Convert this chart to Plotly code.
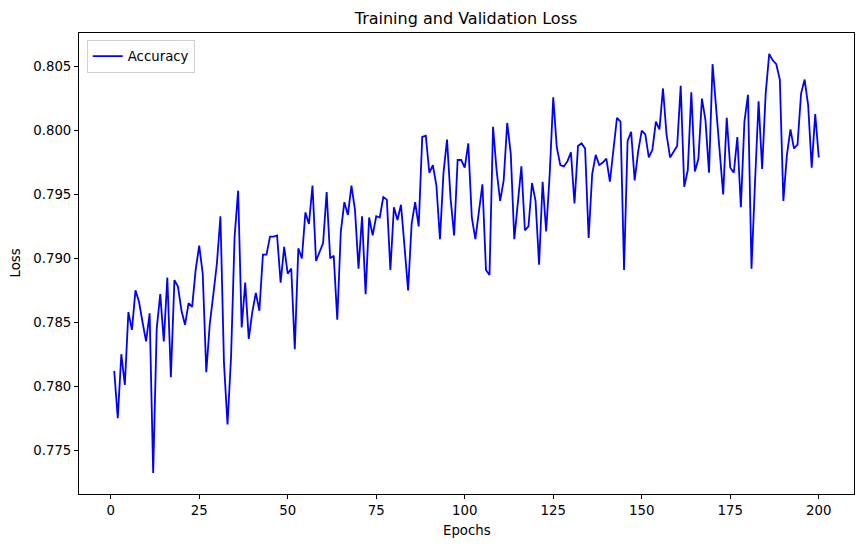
import plotly.graph_objects as go

# valores (epoca 1..200)
epochs = list(range(1, 201))
accuracy = [
    0.7812, 0.7775, 0.7825, 0.7801, 0.7858, 0.7844, 0.7875, 0.7866, 0.7850, 0.7835,
    0.7857, 0.7732, 0.7845, 0.7872, 0.7835, 0.7885, 0.7807, 0.7883, 0.7878, 0.7859,
    0.7848, 0.7865, 0.7862, 0.7891, 0.7910, 0.7888, 0.7811, 0.7849, 0.7872, 0.7896,
    0.7933, 0.7818, 0.7770, 0.7823, 0.7917, 0.7953, 0.7846, 0.7881, 0.7837, 0.7858,
    0.7873, 0.7859, 0.7903, 0.7903, 0.7917, 0.7917, 0.7918, 0.7881, 0.7909, 0.7888,
    0.7892, 0.7829, 0.7908, 0.7900, 0.7936, 0.7927, 0.7957, 0.7898, 0.7905, 0.7912,
    0.7952, 0.7900, 0.7902, 0.7852, 0.7921, 0.7944, 0.7934, 0.7957, 0.7938, 0.7892,
    0.7933, 0.7872, 0.7932, 0.7918, 0.7933, 0.7932, 0.7948, 0.7946, 0.7891, 0.7940,
    0.7930, 0.7942, 0.7909, 0.7875, 0.7927, 0.7944, 0.7925, 0.7995, 0.7996, 0.7967,
    0.7973, 0.7957, 0.7915, 0.7967, 0.7993, 0.7947, 0.7918, 0.7977, 0.7977, 0.7971,
    0.7990, 0.7932, 0.7915, 0.7936, 0.7958, 0.7891, 0.7887, 0.8003, 0.7969, 0.7945,
    0.7961, 0.8006, 0.7982, 0.7915, 0.7943, 0.7972, 0.7922, 0.7925, 0.7959, 0.7945,
    0.7895, 0.7960, 0.7921, 0.7966, 0.8026, 0.7987, 0.7973, 0.7972, 0.7976, 0.7983,
    0.7943, 0.7988, 0.7990, 0.7986, 0.7916, 0.7966, 0.7981, 0.7973, 0.7975, 0.7978,
    0.7960, 0.7986, 0.8010, 0.8007, 0.7891, 0.7992, 0.7999, 0.7961, 0.7984, 0.8000,
    0.7997, 0.7979, 0.7985, 0.8007, 0.8001, 0.8033, 0.7997, 0.7979, 0.7983, 0.7988,
    0.8035, 0.7956, 0.7969, 0.8030, 0.7968, 0.7978, 0.8025, 0.8008, 0.7967, 0.8052,
    0.8018, 0.7982, 0.7950, 0.8010, 0.7971, 0.7967, 0.7995, 0.7940, 0.8007, 0.8028,
    0.7892, 0.7960, 0.8023, 0.7970, 0.8029, 0.8060, 0.8055, 0.8052, 0.8040, 0.7945,
    0.7981, 0.8001, 0.7986, 0.7989, 0.8029, 0.8040, 0.8020, 0.7971, 0.8013, 0.7979,
]
x_ticks = [0, 25, 50, 75, 100, 125, 150, 175, 200]
y_ticks = [0.775, 0.780, 0.785, 0.790, 0.795, 0.800, 0.805]

# margen del 5% como en matplotlib
x_pad = (max(epochs) - min(epochs)) * 0.05
y_pad = (max(accuracy) - min(accuracy)) * 0.05

fig = go.Figure()
fig.add_trace(go.Scatter(
    x=epochs, y=accuracy,
    mode='lines',
    line=dict(color='blue', width=1.8),
    name='Accuracy',
))

axis_style = dict(
    showline=True, mirror=True, linecolor='black', linewidth=1,
    ticks='outside', ticklen=4, tickcolor='black', tickwidth=1,
    showgrid=False, zeroline=False, automargin=False,
    tickfont=dict(size=13.3, color='black'),
)

fig.update_layout(
    width=863, height=547,
    font=dict(family='DejaVu Sans', size=13.3, color='black'),
    title=dict(text='Training and Validation Loss', x=0.54, xanchor='center',
               y=0.967, yanchor='middle', font=dict(size=16), automargin=False),
    plot_bgcolor='white', paper_bgcolor='white',
    margin=dict(l=79, r=9, t=33, b=53, autoexpand=False),
    xaxis=dict(range=[min(epochs) - x_pad, max(epochs) + x_pad],
               tickvals=x_ticks, **axis_style),
    yaxis=dict(range=[min(accuracy) - y_pad, max(accuracy) + y_pad],
               tickvals=y_ticks, tickformat='.3f', **axis_style),
    showlegend=True,
    legend=dict(x=0.01, y=0.985, xanchor='left', yanchor='top',
                bgcolor='rgba(255,255,255,0.8)', bordercolor='#d0d0d0', borderwidth=1,
                font=dict(size=13.3), itemwidth=30),
)

# titulos de ejes como anotaciones para colocarlos como en matplotlib
fig.add_annotation(text='Epochs', xref='paper', yref='paper', x=0.5, y=0,
                   yanchor='middle', yshift=-36, showarrow=False,
                   font=dict(size=13.3))
fig.add_annotation(text='Loss', xref='paper', yref='paper', x=0, y=0.5,
                   xanchor='center', xshift=-64, textangle=-90, showarrow=False,
                   font=dict(size=13.3))

# quitar el margen del body para que la figura empiece en (0, 0)
fig.write_html("out.html", config={'displayModeBar': False},
               post_script="document.body.style.margin='0';")
